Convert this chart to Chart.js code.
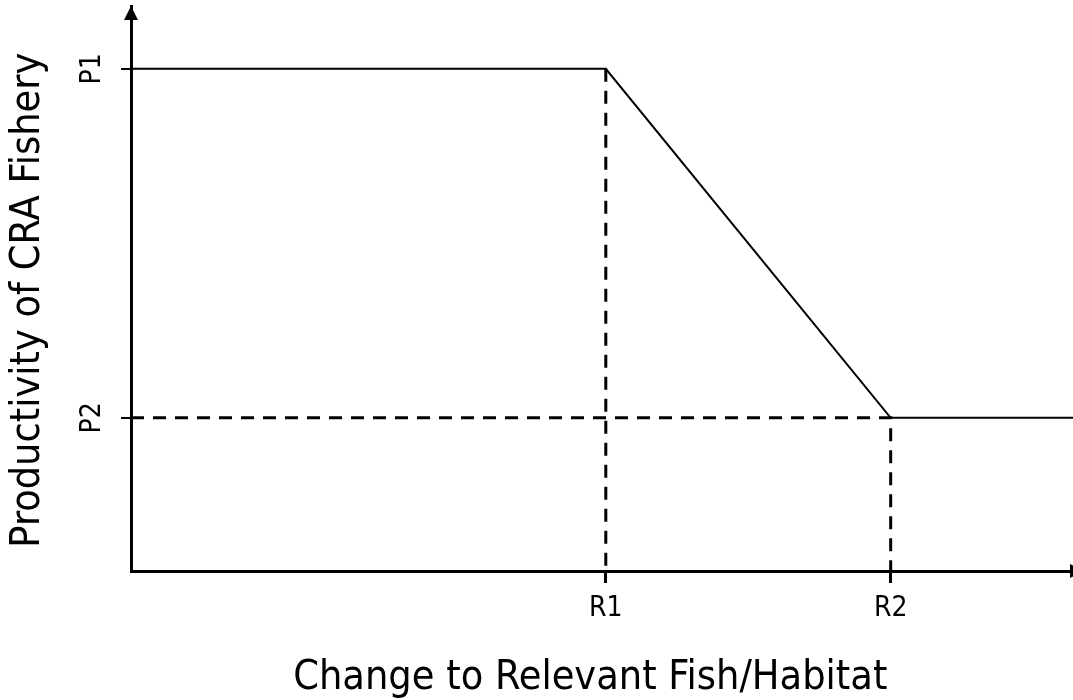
<!DOCTYPE html>
<html>
<head>
<meta charset="utf-8">
<script src="https://cdn.jsdelivr.net/npm/chart.js@4"></script>
<style>
  html, body { margin: 0; padding: 0; background: #fff; overflow: hidden; }
  #wrap { width: 1073px; height: 700px; }
</style>
</head>
<body>
<div id="wrap"><canvas id="grafico" width="1073" height="700"></canvas></div>
<script>
// --- dados ---
// posições e rótulos dos ticks
const xLabels = ["R1", "R2"];
const xPos = [5, 8];
const yLabels = ["P1", "P2"];
const yPos = [10, 3.05];

// curva de produtividade (linha cheia)
const curveX = [0, 5, 8, 10];
const curveY = [10, 10, 3.05, 3.05];

// linhas-guia tracejadas
const guideR1X = [5, 5];
const guideR1Y = [10, 0];
const guideP2X = [0, 8, 8];
const guideP2Y = [3.05, 3.05, 0];

const fonte = '"DejaVu Sans Condensed", "DejaVu Sans", sans-serif';

function pontos(xs, ys) {
  return xs.map((x, i) => ({ x: x, y: ys[i] }));
}

// zera o espaço extra que o Chart.js reserva para os rótulos
function semPadding(s) {
  s.paddingTop = 0;
  s.paddingBottom = 0;
  s.paddingLeft = 0;
  s.paddingRight = 0;
}

// pontas de seta nos eixos (a do eixo x fica cortada na borda, como no original)
const setas = {
  id: "setas",
  afterDraw(chart) {
    const { ctx, chartArea: a } = chart;
    ctx.save();
    ctx.fillStyle = "#000";
    ctx.beginPath();
    ctx.moveTo(a.left, a.top);
    ctx.lineTo(a.left - 7, a.top + 14);
    ctx.lineTo(a.left + 7, a.top + 14);
    ctx.closePath();
    ctx.fill();
    const tip = a.right + 11;
    ctx.beginPath();
    ctx.moveTo(tip, a.bottom);
    ctx.lineTo(tip - 14, a.bottom - 7);
    ctx.lineTo(tip - 14, a.bottom + 7);
    ctx.closePath();
    ctx.fill();
    ctx.restore();
  }
};

const canvas = document.getElementById("grafico");

let grafico = new Chart(canvas, {
  type: "scatter",
  data: {
    datasets: [
      {
        data: pontos(curveX, curveY),
        showLine: true,
        borderColor: "#000",
        borderWidth: 2,
        pointRadius: 0
      },
      {
        data: pontos(guideR1X, guideR1Y),
        showLine: true,
        borderColor: "#000",
        borderWidth: 3,
        borderDash: [13, 9],
        pointRadius: 0
      },
      {
        data: pontos(guideP2X, guideP2Y),
        showLine: true,
        borderColor: "#000",
        borderWidth: 3,
        borderDash: [13, 9],
        pointRadius: 0
      }
    ]
  },
  options: {
    responsive: false,
    animation: false,
    layout: { padding: { top: 6, right: 0, left: 0, bottom: 0 } },
    plugins: {
      legend: { display: false },
      tooltip: { enabled: false }
    },
    scales: {
      x: {
        type: "linear",
        min: 0,
        max: 9.92,
        afterBuildTicks: s => { s.ticks = xPos.map(v => ({ value: v })); },
        afterFit: s => { s.height = 129; semPadding(s); },
        ticks: {
          autoSkip: false,
          maxRotation: 0,
          callback: (v, i) => xLabels[i],
          font: { family: fonte, size: 28 },
          color: "#000",
          padding: 9
        },
        grid: { drawOnChartArea: false, drawTicks: true, tickLength: 12, color: "#000", lineWidth: 3 },
        border: { color: "#000", width: 3 },
        title: {
          display: true,
          // espaços no fim deslocam o título um pouco para a esquerda, como no original
          text: "Change to Relevant Fish/Habitat  ",
          font: { family: fonte, size: 41, lineHeight: 1 },
          color: "#000",
          padding: { top: 0, bottom: 1 }
        }
      },
      y: {
        type: "linear",
        min: 0,
        max: 11.25,
        afterBuildTicks: s => { s.ticks = yPos.map(v => ({ value: v })); },
        afterFit: s => { s.width = 131; semPadding(s); },
        ticks: {
          autoSkip: false,
          minRotation: 90,
          maxRotation: 90,
          crossAlign: "center",
          callback: (v, i) => yLabels[i],
          font: { family: fonte, size: 28 },
          color: "#000",
          padding: 13
        },
        grid: { drawOnChartArea: false, drawTicks: true, tickLength: 10, color: "#000", lineWidth: 2 },
        border: { color: "#000", width: 3 },
        title: {
          display: true,
          text: "Productivity of CRA Fishery  ",
          font: { family: fonte, size: 41, lineHeight: 1 },
          color: "#000",
          padding: { top: 8, bottom: 0 }
        }
      }
    }
  },
  plugins: [setas]
});
</script>
</body>
</html>
